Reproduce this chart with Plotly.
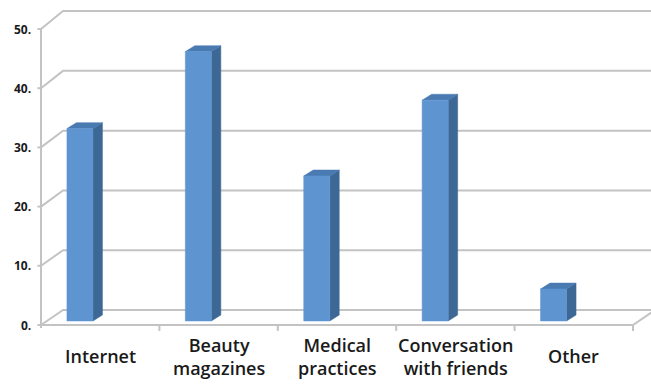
import plotly.graph_objects as go

# Survey data: where respondents get their information
categories = ["Internet", "Beauty<br>magazines", "Medical<br>practices",
              "Conversation<br>with friends", "Other"]
values = [32.5, 45.5, 24.5, 37.3, 5.4]
y_ticks = [0, 10, 20, 30, 40, 50]
y_tick_labels = ["0.", "10.", "20.", "30.", "40.", "50."]

# Pseudo-3D geometry (in axis units)
DEPTH_X, DEPTH_Y = 0.186, 2.53      # floor depth: front edge -> back wall
BACK_SCALE = 1.01                   # slight perspective on the back wall
BAR_OFFSET = 0.329                  # bar face centre relative to category start
BAR_HALF = 0.11                     # half width of bar front face
BAR_BASE = 0.68                     # bars stand a little inside the floor
SIDE_X, SIDE_Y = 0.08, 1.0          # bar depth (side / top faces)

GRID = "#C3C3C3"
FRONT = "#5E95D0"
SIDE = "#3D6896"
TOP = "#4A7AB2"

n = len(categories)
fig = go.Figure()


def back_y(v):
    return DEPTH_Y + v * BACK_SCALE


# back-wall gridlines and left-wall diagonals
gx, gy = [], []
for v in y_ticks:
    gx += [0, DEPTH_X, 6.0, None]
    gy += [v, back_y(v), back_y(v), None]
# floor front edge and right diagonal
gx += [0, n, n + DEPTH_X, None]
gy += [0, 0, DEPTH_Y, None]
# front value axis with its tick marks
gx += [0, 0, None]
gy += [-0.5, 50, None]
for v in y_ticks:
    gx += [-0.03, 0, None]
    gy += [v, v, None]
# category tick marks
for i in range(1, n + 1):
    gx += [i, i, None]
    gy += [0, -1.0, None]
fig.add_trace(go.Scatter(x=gx, y=gy, mode="lines",
                         line=dict(color=GRID, width=2),
                         hoverinfo="skip", showlegend=False))


def faces(kind):
    xs, ys = [], []
    for i, v in enumerate(values):
        c = i + BAR_OFFSET
        l, r = c - BAR_HALF, c + BAR_HALF
        b, t = BAR_BASE, BAR_BASE + v
        if kind == "side":
            xs += [r, r + SIDE_X, r + SIDE_X, r, r, None]
            ys += [b, b + SIDE_Y, t + SIDE_Y, t, b, None]
        elif kind == "top":
            xs += [l, r, r + SIDE_X, l + SIDE_X, l, None]
            ys += [t, t, t + SIDE_Y, t + SIDE_Y, t, None]
        else:
            xs += [l, r, r, l, l, None]
            ys += [b, b, t, t, b, None]
    return xs, ys


for kind, col in (("side", SIDE), ("top", TOP), ("front", FRONT)):
    xs, ys = faces(kind)
    fig.add_trace(go.Scatter(x=xs, y=ys, mode="lines", fill="toself",
                             fillcolor=col, line=dict(color=col, width=0.5),
                             hoverinfo="skip", showlegend=False))

# value-axis labels
for v, lab in zip(y_ticks, y_tick_labels):
    fig.add_annotation(x=-0.065, y=v, text=lab, showarrow=False,
                       xanchor="right", yanchor="middle",
                       font=dict(family="Open Sans", size=12, color="#1a1a1a",
                                 weight="bold"))

# category labels
for i, lab in enumerate(categories):
    fig.add_annotation(x=i + 0.5, y=-5.25, text=lab, showarrow=False,
                       xanchor="center", yanchor="middle",
                       font=dict(family="Open Sans", size=18, color="#1a1a1a",
                                 weight=600))

fig.update_layout(
    width=651, height=388,
    margin=dict(l=0, r=0, t=0, b=0),
    paper_bgcolor="white", plot_bgcolor="white",
    xaxis=dict(range=[-41 / 118.4, 610 / 118.4], visible=False, fixedrange=True),
    yaxis=dict(range=[-63 / 5.92, 325 / 5.92], visible=False, fixedrange=True),
)

fig.write_html("out.html")
